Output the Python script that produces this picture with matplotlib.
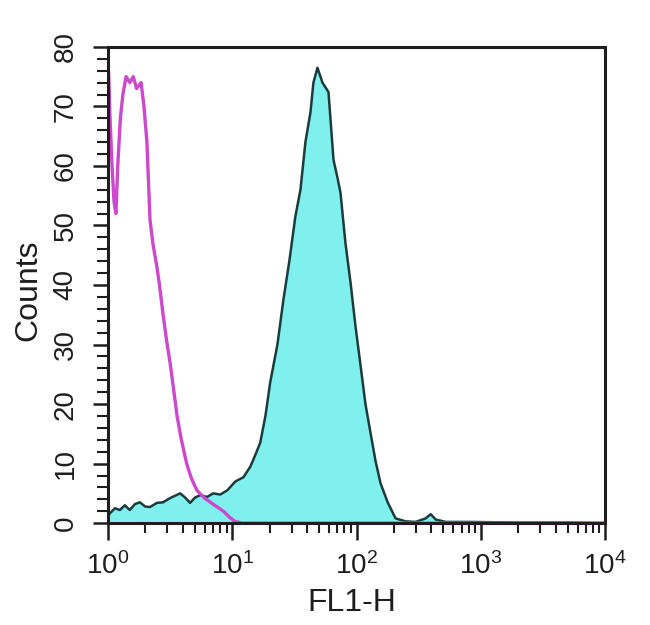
import matplotlib
matplotlib.use("Agg")
import matplotlib.pyplot as plt
from matplotlib.ticker import LogLocator, MultipleLocator, NullFormatter

plt.rcParams['font.family'] = ['Liberation Sans', 'DejaVu Sans']
plt.rcParams['mathtext.default'] = 'regular'

# --- datos ---
# histograma teñido (relleno cian)
fl1_teñido = [1.0, 1.02, 1.14, 1.25, 1.37, 1.50, 1.65, 1.81, 1.99, 2.18, 2.48, 2.78,
              3.16, 3.47, 3.81, 4.18, 4.58, 5.03, 5.52, 6.28, 7.03, 8.0, 9.12,
              10.6, 12.3, 14.0, 15.3, 16.8, 18.5, 20.2, 23.1, 25.8, 28.8, 32.2,
              35.4, 38.8, 42.6, 45.0, 48.5, 53.2, 59.5, 65.3, 70.3, 74.3, 81.5,
              89.5, 98.2, 108, 118, 130, 142, 156, 178, 206, 248, 299, 360, 395,
              434, 522, 800, 2000, 5000, 10000]
cuentas_teñido = [0, 1.5, 2.5, 2.2, 3.0, 2.2, 3.2, 3.5, 2.8, 2.7, 3.4, 3.5,
                  4.2, 4.6, 5.0, 4.3, 3.4, 4.3, 4.7, 4.4, 5.0, 4.8, 5.5,
                  7.0, 7.7, 9.5, 11.4, 13.5, 18, 23.6, 30, 37.5, 44, 51.5,
                  56, 64, 69, 74, 76.5, 74, 72.4, 61, 58, 55.5, 47,
                  40.4, 33, 26.3, 20, 15, 10.5, 6.7, 3.5, 0.8, 0.3, 0.2, 0.8, 1.5,
                  0.6, 0.2, 0.2, 0.1, 0.1, 0]

# control de isotipo (linea magenta)
fl1_control = [1.0, 1.01, 1.04, 1.08, 1.12, 1.16, 1.2, 1.26, 1.32, 1.4, 1.5, 1.6,
               1.7, 1.85, 1.95, 2.06, 2.18, 2.3, 2.48, 2.6, 2.78, 2.95, 3.16,
               3.4, 3.6, 3.9, 4.3, 4.7, 5.2, 6.0, 7.0, 8.5, 9.5, 10.5, 12, 10000]
cuentas_control = [0, 76, 68, 60, 54, 52, 60, 68, 72, 75, 74, 75,
                   73, 74, 70, 64, 51, 47, 43, 40, 35, 31, 27,
                   22, 18, 14, 10, 7.5, 5.5, 4.2, 3.2, 2, 1, 0.3, 0, 0]

fig = plt.figure(figsize=(6.5, 6.25), dpi=100)
ax = fig.add_axes([0.166, 0.163, 0.765, 0.762])

ax.fill_between(fl1_teñido, cuentas_teñido, color='#80f0ee', linewidth=0)
ax.plot(fl1_teñido, cuentas_teñido, color='#1c3c3c', linewidth=1.8)
ax.plot(fl1_control, cuentas_control, color='#cc48cc', linewidth=2.4)

ax.set_xscale('log')
ax.set_xlim(1, 10000)
ax.set_ylim(0, 80)

# ejes y marcas
tinta = '#1e1e1e'
ax.yaxis.set_major_locator(MultipleLocator(10))
ax.yaxis.set_minor_locator(MultipleLocator(2))
ax.xaxis.set_major_locator(LogLocator(base=10))
ax.xaxis.set_minor_locator(LogLocator(base=10, subs=range(2, 10)))
ax.xaxis.set_minor_formatter(NullFormatter())
ax.tick_params(axis='both', which='major', direction='out', width=1.8,
               labelsize=20, colors=tinta)
ax.tick_params(axis='both', which='minor', direction='out', width=1.5,
               colors=tinta)
ax.tick_params(axis='x', which='major', length=12, pad=9)
ax.tick_params(axis='x', which='minor', length=7)
ax.tick_params(axis='y', which='major', length=11, labelrotation=90, pad=10)
ax.tick_params(axis='y', which='minor', length=8)
for lbl in ax.get_yticklabels():
    lbl.set_va('center')

for sp in ax.spines.values():
    sp.set_linewidth(2.2)
    sp.set_color(tinta)

ax.set_xlabel('FL1-H', fontsize=23, color=tinta, va='top')
ax.set_ylabel('Counts', fontsize=23, color=tinta)
ax.xaxis.set_label_coords(0.49, -0.137)
ax.yaxis.set_label_coords(-0.13, 0.49)

fig.savefig('out.png', dpi=100)
